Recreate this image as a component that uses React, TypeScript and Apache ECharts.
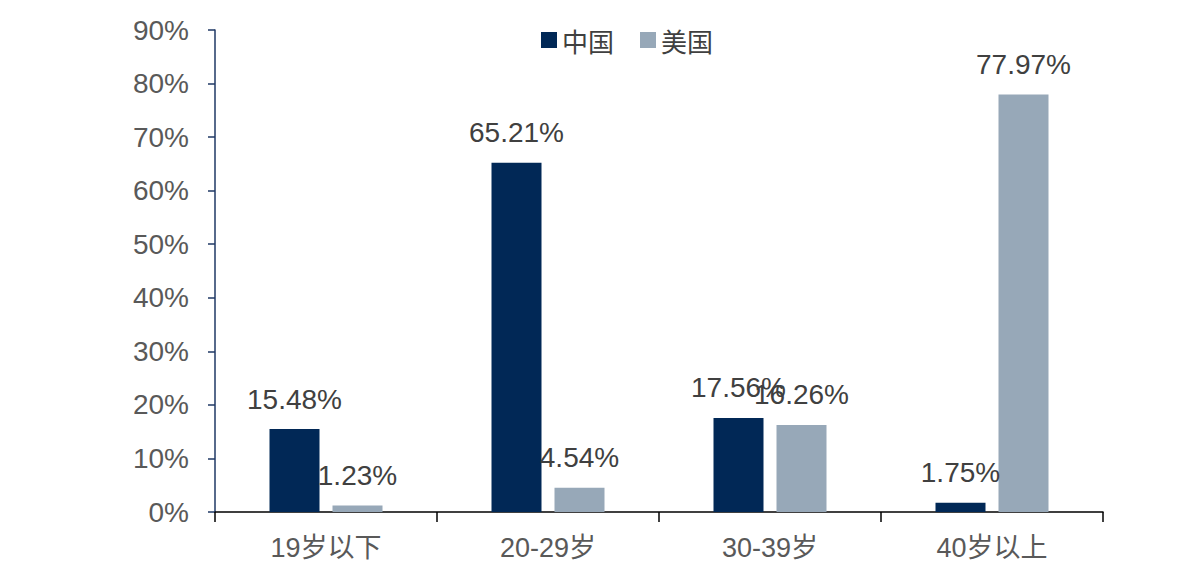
import React, { useEffect, useRef } from "react";
import * as echarts from "echarts";

const categories = ["19岁以下", "20-29岁", "30-39岁", "40岁以上"];
const chinaValues = [15.48, 65.21, 17.56, 1.75];
const usValues = [1.23, 4.54, 16.26, 77.97];
const seriesNames = ["中国", "美国"];

export default function App() {
  const ref = useRef<HTMLDivElement>(null);
  useEffect(() => {
    const chart = echarts.init(ref.current!, null, { renderer: "svg" });
    const labelStyle = {
      show: true,
      position: "top" as const,
      distance: 16,
      fontFamily: "Liberation Sans, Arial, sans-serif",
      fontSize: 28,
      color: "#404040",
      formatter: (p: any) => p.value.toFixed(2) + "%",
    };
    chart.setOption({
      animation: false,
      backgroundColor: "#ffffff",
      legend: {
        data: seriesNames,
        left: 536,
        top: 22,
        itemWidth: 16,
        itemHeight: 16,
        itemGap: 26,
        icon: "rect",
        textStyle: {
          fontFamily: "Noto Sans CJK SC",
          fontSize: 26,
          color: "#404040",
        },
      },
      grid: { left: 215, right: 88, top: 30, bottom: 55, containLabel: false },
      xAxis: {
        type: "category",
        data: categories,
        axisLine: { lineStyle: { color: "#000000", width: 1.5 } },
        axisTick: { show: true, length: 10, lineStyle: { color: "#000000", width: 1.5 } },
        axisLabel: {
          margin: 22,
          fontSize: 27,
          fontFamily: "Liberation Sans, Noto Sans CJK SC, sans-serif",
          color: "#595959",
        },
      },
      yAxis: {
        type: "value",
        min: 0,
        max: 90,
        interval: 10,
        splitLine: { show: false },
        axisLine: { show: true, lineStyle: { color: "#1f3864", width: 1.5 } },
        axisTick: { show: true, length: 7, lineStyle: { color: "#1f3864", width: 1.5 } },
        axisLabel: {
          margin: 26,
          fontSize: 28,
          fontFamily: "Liberation Sans, Arial, sans-serif",
          color: "#595959",
          formatter: (v: number) => v + "%",
        },
      },
      series: [
        {
          name: seriesNames[0],
          type: "bar",
          data: chinaValues,
          barWidth: 50,
          barGap: "26%",
          itemStyle: { color: "#012856" },
          label: labelStyle,
        },
        {
          name: seriesNames[1],
          type: "bar",
          data: usValues,
          barWidth: 50,
          barGap: "26%",
          itemStyle: { color: "#97a8b8" },
          label: labelStyle,
        },
      ],
    });
    return () => chart.dispose();
  }, []);
  return <div ref={ref} style={{ width: 1191, height: 567, position: "absolute", left: 0, top: 0 }} />;
}
